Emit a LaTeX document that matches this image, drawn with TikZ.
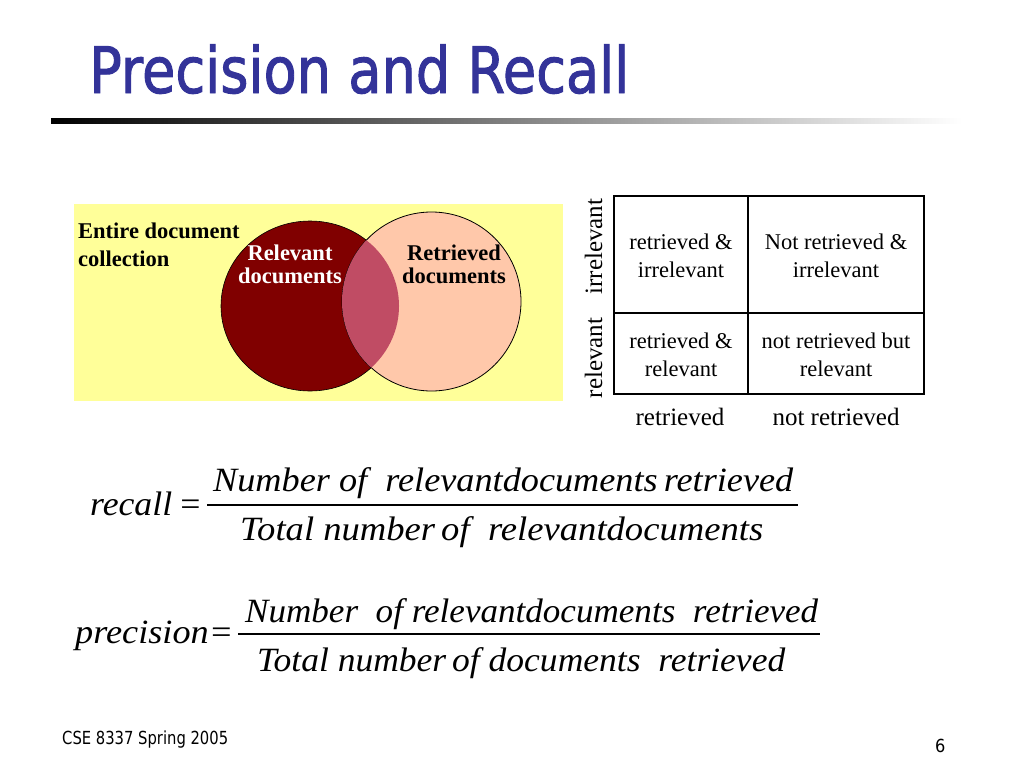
\documentclass[tikz,border=0pt]{standalone}
\usepackage{fontspec}
\usepackage{graphicx}
\setmainfont{Liberation Serif}
\newfontfamily\tahoma[FakeStretch=0.9]{DejaVu Sans}
\newfontfamily\tahomatitle[FakeStretch=0.9, FakeBold=1.5]{DejaVu Sans}
\definecolor{titleblue}{HTML}{333399}
\definecolor{paleyellow}{HTML}{FFFF99}
\definecolor{relred}{HTML}{800000}
\definecolor{retpeach}{HTML}{FFC8AA}
\definecolor{bothrose}{HTML}{C04C64}
\newcommand{\fitto}[2]{\resizebox{#1}{\height}{#2}}
\tikzset{
  every node/.style={inner sep=0pt},
  vbold/.style={font=\bfseries\fontsize{22.5}{26}\selectfont, anchor=base},
  cell/.style={font=\fontsize{22.5}{27}\selectfont, anchor=base},
  axlab/.style={font=\fontsize{25}{30}\selectfont, anchor=base},
  frm/.style={font=\itshape\fontsize{34}{40}\selectfont, anchor=base west},
}

\begin{document}
\begin{tikzpicture}[x=1pt, y=-1pt]
    \useasboundingbox (0,0) rectangle (1024,768);
    \fill[white] (0,0) rectangle (1024,768);

    % title and rule
    \node[anchor=base west, text=titleblue, font=\tahomatitle\fontsize{64}{70}\selectfont]
      (title) at (89,93) {\fitto{540pt}{Precision and Recall}};
    \shade[left color=black, right color=white] (51,118.5) rectangle (962,123.5);

    % venn diagram
    \fill[paleyellow] (74,204) rectangle (563,401);
    \draw[fill=relred, line width=0.6pt] (310,306) circle [x radius=89pt, y radius=85pt];
    \draw[fill=retpeach, line width=0.8pt] (431.5,301.5) circle [radius=89.5pt];
    \begin{scope}
      \clip (310,306) circle [x radius=89pt, y radius=85pt];
      \fill[bothrose] (431.5,301.5) circle [radius=89.5pt];
    \end{scope}
    \node[vbold, anchor=base west] (ent1) at (78,238) {Entire document};
    \node[vbold, anchor=base west] (ent2) at (78,266) {collection};
    \node[vbold, text=white] (rel1) at (290,260) {Relevant};
    \node[vbold, text=white] (rel2) at (290,283) {documents};
    \node[vbold] (ret1) at (454,260) {Retrieved};
    \node[vbold] (ret2) at (454,283) {documents};

    % contingency table
    \draw[line width=1.2pt] (614,196) rectangle (924,394);
    \draw[line width=1.2pt] (748,196) -- (748,394);
    \draw[line width=1.2pt] (614,313) -- (924,313);
    \foreach \nm/\x/\y/\ta/\tb in {
        ri/681/249/retrieved \&/irrelevant,
        ni/836/249/Not retrieved \&/irrelevant,
        rr/681/348/retrieved \&/relevant,
        nr/836/348/not retrieved but/relevant}{
      \node[cell] (\nm a) at (\x,\y) {\ta};
      \node[cell] (\nm b) at (\x,\y+28) {\tb};
    }
    \node[axlab, rotate=90] (irr) at (602,246.5) {irrelevant};
    \node[axlab, rotate=90] (rel) at (602,358) {relevant};
    \node[axlab] (colret) at (680,425) {retrieved};
    \node[axlab] (colnot) at (836,425) {not retrieved};

    % recall
    \node[frm] (rlab) at (90,515) {\fitto{112pt}{recall\,=}};
    \node[frm] (rnum) at (213,491) {\fitto{580pt}{Number of\ \ relevantdocuments\,retrieved}};
    \node[frm] (rden) at (240,540) {\fitto{523pt}{Total number\,of\ \ relevantdocuments}};
    \draw[line width=1.2pt] (207,505) -- (798,505);

    % precision
    \node[frm] (plab) at (75,643) {\fitto{158pt}{precision=}};
    \node[frm] (pnum) at (245,622) {\fitto{573pt}{Number\ \ of relevantdocuments\ \ retrieved}};
    \node[frm] (pden) at (257,671) {\fitto{528pt}{Total number\,of documents\ \ retrieved}};
    \draw[line width=1.2pt] (238,634) -- (820,634);

    % footer
    \node[anchor=base west, font=\tahoma\fontsize{18}{20}\selectfont]
      (foot) at (62,744) {\fitto{166pt}{CSE 8337 Spring 2005}};
    \node[anchor=base west, font=\tahoma\fontsize{18}{20}\selectfont] (pg) at (935,752) {6};
\end{tikzpicture}
\end{document}
